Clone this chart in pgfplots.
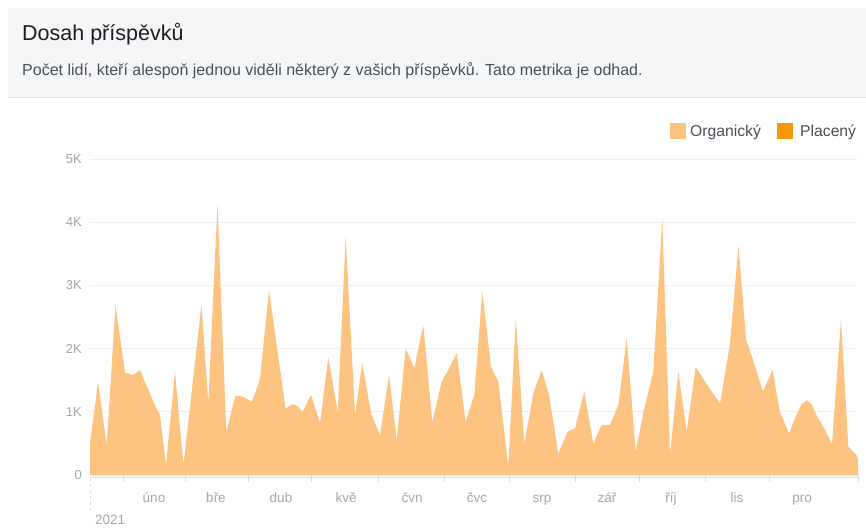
\documentclass[border=0pt]{standalone}
\usepackage{fontspec}
\setmainfont{Liberation Sans}
\usepackage{pgfplots}
\pgfplotsset{compat=1.18}
\definecolor{organic}{HTML}{FCC480}
\definecolor{paid}{HTML}{F5980A}
\definecolor{hdrbg}{HTML}{F5F6F7}
\definecolor{hdrline}{HTML}{E2E4E8}
\definecolor{titlecol}{HTML}{1C1E21}
\definecolor{subcol}{HTML}{4B4F56}
\definecolor{tickcol}{HTML}{A4A7AC}
\definecolor{gridcol}{HTML}{EFEFF1}
\definecolor{axcol}{HTML}{DADDE1}
\begin{document}
\begin{tikzpicture}
\useasboundingbox (0pt,0pt) rectangle (866pt,-531pt);
\fill[white] (0pt,0pt) rectangle (866pt,-531pt);
\begin{scope}[x=1pt,y=-1pt]
\fill[hdrbg] (8,8) rectangle (866,97);
\draw[hdrline] (8,97.5) -- (866,97.5);
\node[anchor=base west, font=\fontsize{21.5}{24}\selectfont, text=titlecol, inner sep=0pt] at (22,40) {Dosah příspěvků};
\node[anchor=base west, font=\fontsize{16}{18}\selectfont, text=subcol, inner sep=0pt] at (22,75) {Počet lidí, kteří alespoň jednou viděli některý z vašich příspěvků. Tato metrika je odhad.};
\fill[organic] (670,123) rectangle (686,139);
\node[anchor=base west, font=\fontsize{15.7}{18}\selectfont, text=subcol, inner sep=0pt] at (690,136) {Organický};
\fill[paid] (777,123) rectangle (793,139);
\node[anchor=base west, font=\fontsize{15.7}{18}\selectfont, text=subcol, inner sep=0pt] at (800,136) {Placený};
\draw[axcol, dashed] (90,478) -- (90,512);
\node[anchor=base west, font=\fontsize{13.5}{15}\selectfont, text=tickcol, inner sep=0pt] at (95,524) {2021};
\draw[axcol] (90,477.5) -- (858,477.5);
\end{scope}
\begin{axis}[
  at={(90pt,-475pt)}, anchor=south west,
  scale only axis, width=768pt, height=316pt,
  xmin=90, xmax=858, ymin=0, ymax=5000,
  axis line style={draw=none},
  /pgf/number format/assume math mode=true,
  tick align=outside,
  xtick pos=bottom, ytick pos=left,
  xtick={123.3,185,248.3,311.7,378.3,444.3,509,575,639,705,769.3,858},
  xticklabels=\empty,
  x tick style={draw=axcol, line width=0.8pt},
  major tick length=7pt,
  extra x ticks={154,216,281,346,412,477,542,607,671,737,802},
  extra x tick labels={úno,bře,dub,kvě,čvn,čvc,srp,zář,říj,lis,pro},
  extra x tick style={major tick length=0pt, tick style={draw=none}, xticklabel style={text height=12pt, text depth=3pt, yshift=-12pt}},
  xticklabel style={font=\fontsize{13.5}{15}\selectfont, text=tickcol},
  ytick={0,1000,2000,3000,4000,5000},
  yticklabels={0,1K,2K,3K,4K,5K},
  y tick style={draw=none},
  yticklabel style={font=\fontsize{13}{15}\selectfont, text=tickcol, inner sep=1pt},
  ymajorgrids, grid style={gridcol, line width=0.8pt},
  clip=false,
]
\addplot[fill=organic, draw=none] coordinates {
(90,500) (98,1470) (106.7,470) (115.5,2690) (125,1620) (133,1580) (140,1660)
(155,1100) (160,950) (166,160) (175,1630) (183.5,160) (201.5,2700) (208.3,1150)
(217.5,4290) (226.3,680) (235.5,1260) (243,1240) (252,1160) (260,1520) (269,2930)
(285.5,1050) (292.5,1120) (297,1100) (302.5,1000) (311,1270) (320,820) (328.3,1860)
(337.7,1000) (345.7,3770) (355,950) (362.3,1770) (371,980) (380,630) (389,1580)
(396.7,550) (405.7,2000) (414.3,1690) (423.3,2370) (432.3,840) (441.7,1480)
(448.3,1660) (456.7,1930) (465.7,840) (474.3,1270) (482.3,2900) (491,1710)
(498.3,1480) (508.3,130) (515.8,2490) (524.3,500) (533.3,1290) (541.7,1660)
(549,1270) (558.3,340) (567.7,690) (575,740) (584.3,1320) (593.3,500) (601.7,790)
(610,790) (618.3,1100) (626.7,2160) (635.7,370) (644.3,1050) (653.3,1630)
(662.3,4060) (670,320) (678.3,1630) (686.7,690) (695.7,1710) (705,1480) (720,1130)
(730,2080) (738.5,3630) (746,2150) (752,1870) (763,1320) (772.5,1660) (780,990)
(789,660) (796.7,960) (801.7,1120) (806.7,1180) (811.7,1120) (817,930) (823.3,760)
(832,500) (841,2460) (848.3,450) (856.7,310) (858,260)
} \closedcycle;
\end{axis}
\end{tikzpicture}
\end{document}
